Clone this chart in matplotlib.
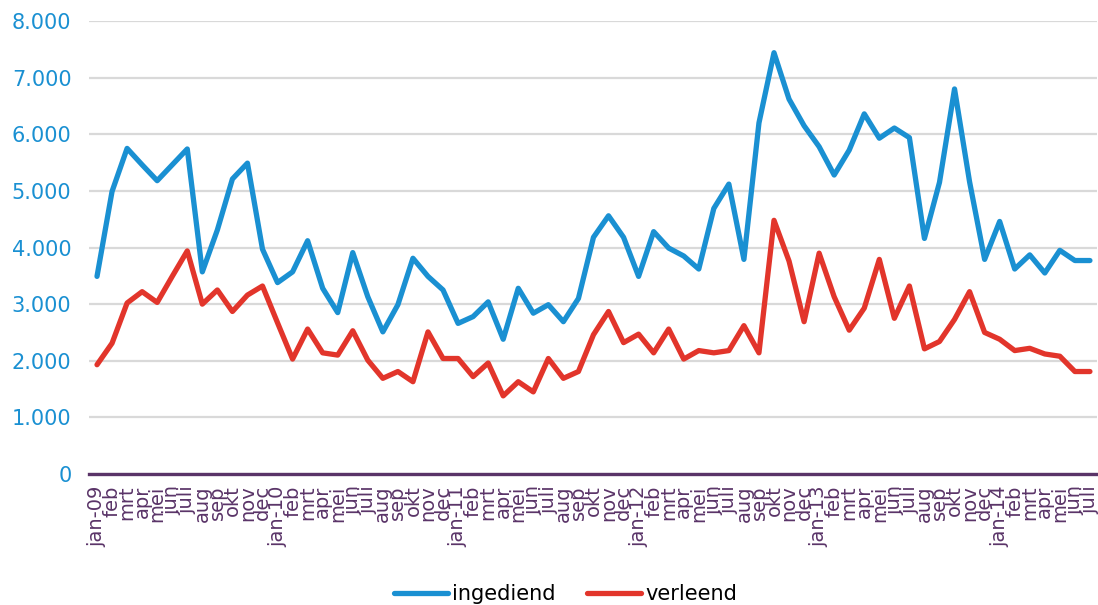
import matplotlib
matplotlib.use('Agg')
import matplotlib.pyplot as plt
from matplotlib.ticker import FuncFormatter

# maanden en jaren op de x-as
maanden = ['jan', 'feb', 'mrt', 'apr', 'mei', 'jun', 'juli', 'aug', 'sep', 'okt', 'nov', 'dec']
jaren = ['09', '10', '11', '12', '13', '14']
aantal_maanden = 67  # jan-09 t/m juli-14

ingediend = [3490, 4990, 5750, 5460, 5180, 5460, 5740, 3570, 4310, 5210, 5490, 3970,
             3380, 3570, 4120, 3280, 2850, 3910, 3130, 2510, 2990, 3810, 3490, 3250,
             2660, 2780, 3040, 2380, 3280, 2840, 2990, 2690, 3100, 4180, 4560, 4180,
             3490, 4280, 3990, 3850, 3620, 4690, 5120, 3790, 6200, 7440, 6620, 6150,
             5780, 5280, 5720, 6360, 5930, 6110, 5940, 4160, 5150, 6800, 5160, 3790,
             4460, 3620, 3870, 3550, 3950, 3770, 3770]

verleend = [1930, 2310, 3020, 3220, 3030, 3490, 3940, 3000, 3250, 2870, 3160, 3320,
            2670, 2030, 2560, 2140, 2100, 2530, 2010, 1690, 1810, 1630, 2510, 2040,
            2040, 1720, 1960, 1380, 1630, 1450, 2040, 1690, 1810, 2460, 2870, 2320,
            2470, 2140, 2560, 2030, 2180, 2140, 2180, 2620, 2140, 4480, 3760, 2690,
            3900, 3130, 2540, 2930, 3790, 2750, 3320, 2210, 2340, 2730, 3220, 2500,
            2380, 2180, 2220, 2120, 2080, 1810, 1810]

labels = []
for i in range(aantal_maanden):
    m = maanden[i % 12]
    if m == 'jan':
        m = 'jan-' + jaren[i // 12]
    labels.append(m)

blauw = '#1a90d2'
rood = '#e2352b'
paars = '#5a3468'

fig = plt.figure(figsize=(10.98, 6.05), dpi=100)
ax = fig.add_axes([0.0815, 0.2165, 0.918, 0.7488])

x = list(range(aantal_maanden))
ax.plot(x, ingediend, color=blauw, lw=3.8, solid_joinstyle='round', solid_capstyle='round', label='ingediend', zorder=3)
ax.plot(x, verleend, color=rood, lw=3.8, solid_joinstyle='round', solid_capstyle='round', label='verleend', zorder=3)

ax.set_xlim(-0.5, aantal_maanden - 0.5)
ax.set_ylim(0, 8000)
ax.set_yticks(range(0, 8001, 1000))
ax.yaxis.set_major_formatter(FuncFormatter(lambda v, p: '{:,.0f}'.format(v).replace(',', '.')))
ax.grid(axis='y', color='#d9d9d9', lw=1.6)
ax.set_axisbelow(True)

ax.set_xticks(x)
ax.set_xticklabels(labels, rotation=90, va='top', ha='center')
ax.tick_params(axis='x', length=0, pad=8, labelsize=14, labelcolor=paars)
ax.tick_params(axis='y', length=0, pad=13, labelsize=15, labelcolor=blauw)

for s in ['top', 'right', 'left']:
    ax.spines[s].set_visible(False)
ax.spines['bottom'].set_color(paars)
ax.spines['bottom'].set_linewidth(2.4)
ax.spines['bottom'].set_zorder(4)

fig.legend(loc='center', bbox_to_anchor=(0.515, 0.018), ncol=2, frameon=False,
           fontsize=15, handlelength=2.6, handletextpad=0.2, columnspacing=1.5)

fig.savefig('out.png', dpi=100)
